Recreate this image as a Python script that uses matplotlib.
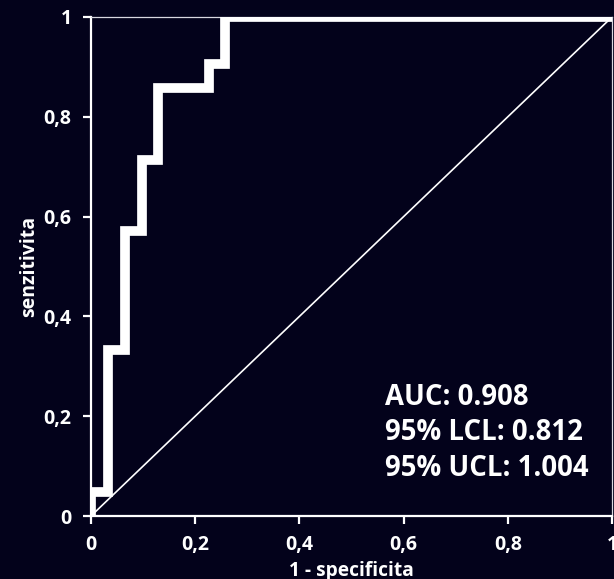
import matplotlib
matplotlib.use("Agg")
import matplotlib.pyplot as plt

# punti della curva ROC (1 - specificita, senzitivita)
fpr = [0, 0, 0.032, 0.065, 0.097, 0.129, 0.226, 0.258, 1]
tpr = [0, 0.048, 0.333, 0.571, 0.714, 0.857, 0.905, 1, 1]

ticks = [0, 0.2, 0.4, 0.6, 0.8, 1]
tick_labels = ["0", "0,2", "0,4", "0,6", "0,8", "1"]

stats = ["AUC: 0.908", "95% LCL: 0.812", "95% UCL: 1.004"]

bg = "#03021b"
plt.rcParams["font.family"] = ["Open Sans", "DejaVu Sans"]

fig = plt.figure(figsize=(6.14, 5.79), dpi=100, facecolor=bg)
ax = fig.add_axes([91 / 614, 63 / 579, 521 / 614, 499 / 579], facecolor=bg)

ax.plot(fpr, tpr, drawstyle="steps-post", color="white", lw=7, solid_joinstyle="miter", zorder=3)
ax.plot([0, 1], [0, 1], color="white", lw=1.2, zorder=2)

ax.set_xlim(0, 1)
ax.set_ylim(0, 1)
ax.set_xticks(ticks)
ax.set_xticklabels(tick_labels)
ax.set_yticks(ticks)
ax.set_yticklabels(tick_labels)

for s in ["left", "bottom"]:
    ax.spines[s].set_color("white")
    ax.spines[s].set_linewidth(1.6)
for s in ["top", "right"]:
    ax.spines[s].set_color("#d8d8e0")
    ax.spines[s].set_linewidth(0.9)

ax.tick_params(colors="white", width=1.6, length=6, pad=8, labelsize=14)
for lbl in ax.get_xticklabels() + ax.get_yticklabels():
    lbl.set_fontweight("bold")

ax.set_xlabel("1 - specificita", color="white", fontsize=13.8, fontweight="bold", labelpad=4)
ax.set_ylabel("senzitivita", color="white", fontsize=14, fontweight="bold", labelpad=3)

for i, s in enumerate(stats):
    ax.text(0.565, 0.238 - i * 0.071, s, color="white", fontsize=19.8, fontweight="bold",
            va="center", ha="left", transform=ax.transAxes)

fig.savefig("out.png", dpi=100, facecolor=bg)
